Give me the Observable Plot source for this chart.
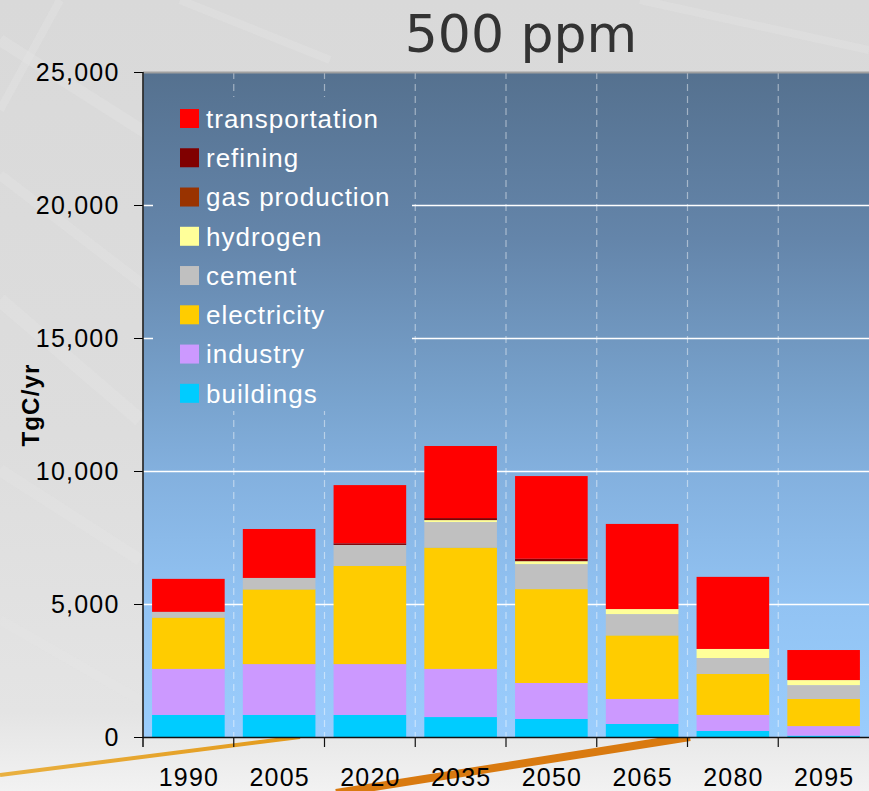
<!DOCTYPE html>
<html>
<head>
<meta charset="utf-8">
<script src="https://cdn.jsdelivr.net/npm/d3@7"></script>
<script src="https://cdn.jsdelivr.net/npm/@observablehq/plot@0.6"></script>
<style>
  html, body { margin: 0; padding: 0; }
  body {
    width: 869px; height: 791px; overflow: hidden; position: relative;
    background: linear-gradient(180deg, #d9d9d9 0%, #dddddd 55%, #e4e4e4 90%, #f2f2f2 100%);
    font-family: "Liberation Sans", Arial, sans-serif;
  }
  #decor { position: absolute; left: 0; top: 0; }
  #wrap { position: absolute; left: 0; top: 0; width: 869px; }
  #title { height: 60px; position: relative; }
  #title span {
    position: absolute; left: 173px; width: 696px; top: 8px; text-align: center;
    font-family: "DejaVu Sans", sans-serif; font-size: 52px; line-height: 52px; color: #333;
  }
  #chart svg { display: block; overflow: visible; }
  #chart svg text { letter-spacing: 1.2px; }
</style>
</head>
<body>
<svg id="decor" width="869" height="791">
  <defs>
    <linearGradient id="gold" x1="0" x2="1" y1="0" y2="0">
      <stop offset="0" stop-color="#e9b040"/>
      <stop offset="1" stop-color="#e39a1c"/>
    </linearGradient>
  </defs>
  <g stroke="#e6e6e6" stroke-opacity="0.35" fill="none">
    <path d="M0,40 L330,250" stroke-width="12"/>
    <path d="M0,175 L150,290" stroke-width="10"/>
    <path d="M60,0 L0,110" stroke-width="8"/>
    <path d="M0,300 L140,420" stroke-width="14"/>
    <path d="M0,470 L140,560" stroke-width="12"/>
    <path d="M0,620 L140,700" stroke-width="10"/>
    <path d="M180,0 L330,60" stroke-width="8"/>
    <path d="M640,0 L869,50" stroke-width="8"/>
  </g>
  <path d="M0,775 L300,737" stroke="url(#gold)" stroke-width="4" fill="none"/>
  <path d="M336,793 L690,737" stroke="#d97a10" stroke-width="8" fill="none"/>
</svg>
<div id="wrap">
  <div id="title"><span>500 ppm</span></div>
  <div id="chart"></div>
</div>
<script>
// ---- data ----
const years = ["1990", "2005", "2020", "2035", "2050", "2065", "2080", "2095"];
const sectors = ["buildings", "industry", "electricity", "cement", "hydrogen", "gas production", "refining", "transportation"];
const sectorColors = ["#00ccff", "#cc99ff", "#ffcc00", "#c0c0c0", "#ffff99", "#993300", "#800000", "#ff0000"];

const buildings      = [830, 830, 830, 750, 680, 490, 230, 50];
const industry       = [1730, 1910, 1910, 1810, 1350, 940, 600, 360];
const electricity    = [1930, 2810, 3690, 4560, 3530, 2390, 1540, 1020];
const cement         = [215, 430, 790, 960, 940, 800, 600, 520];
const hydrogen       = [0, 0, 0, 75, 110, 190, 340, 190];
const gasProduction  = [0, 0, 0, 0, 0, 0, 0, 0];
const refining       = [0, 0, 60, 75, 90, 0, 0, 0];
const transportation = [1240, 1840, 2190, 2710, 3110, 3200, 2710, 1130];

const yTicks = [0, 5000, 10000, 15000, 20000, 25000];
const gridValues = [5000, 10000, 15000, 20000];
const yLabel = "TgC/yr";

const series = [buildings, industry, electricity, cement, hydrogen, gasProduction, refining, transportation];
const rows = years.flatMap((yr, i) => sectors.map((s, j) => ({year: yr, sector: s, value: series[j][i]})));

const W = 869, H = 731, mT = 12, mB = 54, mL = 143, mR = 0;

const chart = Plot.plot({
  width: W, height: H,
  marginTop: mT, marginBottom: mB, marginLeft: mL, marginRight: mR,
  style: {background: "transparent", fontFamily: "'Liberation Sans', Arial, sans-serif", color: "#000", overflow: "visible"},
  x: {domain: years, paddingInner: 0.2, paddingOuter: 0.1, round: false, label: null},
  y: {domain: [0, 25000], label: null},
  color: {domain: sectors, range: sectorColors},
  marks: [
    Plot.frame({fill: "url(#plotbg)", stroke: null}),
    Plot.ruleY(gridValues, {stroke: "#ffffff", strokeWidth: 1.5}),
    Plot.barY(rows, {x: "year", y: "value", fill: "sector", order: sectors}),
    Plot.ruleY([25000], {stroke: "#a0a0a0", strokeWidth: 2}),
    Plot.ruleY([0], {stroke: "#111", strokeWidth: 1.5}),
    Plot.axisY({ticks: yTicks, tickSize: 9, tickPadding: 15, tickFormat: d3.format(","), fontSize: 25, label: null}),
    Plot.axisX({tickSize: 0, tickPadding: 31, fontSize: 25, label: null}),
    Plot.text([yLabel], {frameAnchor: "left", text: d => d, rotate: -90, dx: -112, textAnchor: "middle", fontSize: 24, fontWeight: "bold", fill: "#000"})
  ]
});
document.getElementById("chart").appendChild(chart);

// ---- decoration using the plot's scales ----
const svg = d3.select(chart);
const frameTop = mT, frameBottom = H - mB;
svg.insert("defs", ":first-child").html(
  `<linearGradient id="plotbg" gradientUnits="userSpaceOnUse" x1="0" x2="0" y1="${frameTop}" y2="${frameBottom}">
     <stop offset="0" stop-color="#55718f"/>
     <stop offset="0.25" stop-color="#6485aa"/>
     <stop offset="0.5" stop-color="#79a4cf"/>
     <stop offset="0.6" stop-color="#83b0de"/>
     <stop offset="0.8" stop-color="#92c3f3"/>
     <stop offset="1" stop-color="#9acdfd"/>
   </linearGradient>`);

const xs = chart.scale("x");
const step = xs.step ?? (xs.apply(years[1]) - xs.apply(years[0]));
const bw = xs.bandwidth;
const gap = (step - bw) / 2;
const bounds = years.map(y => xs.apply(y) - gap);

const barsNode = svg.select('g[aria-label="bar"]').node();
const deco = svg.insert("g", () => barsNode);
// dashed vertical separators
deco.selectAll("line.sep").data(bounds.slice(1)).join("line")
  .attr("x1", d => d).attr("x2", d => d).attr("y1", frameTop).attr("y2", frameBottom)
  .attr("stroke", "#ffffff").attr("stroke-opacity", 0.45).attr("stroke-width", 1.2)
  .attr("stroke-dasharray", "7,5");

// legend box (same gradient as the plot so it hides grid lines)
const legendLeft = mL + 10, legendTop = frameTop + 25;
deco.append("rect").attr("x", legendLeft).attr("y", legendTop).attr("width", 259).attr("height", 314)
  .attr("fill", "url(#plotbg)");
const legendItems = sectors.slice().reverse();
const colorScale = chart.scale("color");
const lg = deco.append("g").attr("text-anchor", "start");
legendItems.forEach((s, i) => {
  const cy = frameTop + 46.5 + i * 39.26;
  lg.append("rect").attr("x", mL + 37).attr("y", cy - 9.5).attr("width", 19).attr("height", 19)
    .attr("fill", colorScale.apply(s));
  lg.append("text").attr("x", mL + 63).attr("y", cy).attr("dy", "0.36em").attr("text-anchor", "start")
    .attr("fill", "#ffffff").attr("font-size", 26).style("letter-spacing", "1px").text(s);
});

// axis lines and category boundary ticks
const ax = svg.append("g").attr("stroke", "#111");
ax.append("line").attr("x1", mL).attr("x2", mL).attr("y1", frameTop).attr("y2", frameBottom + 10).attr("stroke-width", 1.5);
ax.selectAll("line.xt").data(bounds.slice(1)).join("line")
  .attr("x1", d => d).attr("x2", d => d).attr("y1", frameBottom).attr("y2", frameBottom + 10).attr("stroke-width", 1.2);
</script>
</body>
</html>
